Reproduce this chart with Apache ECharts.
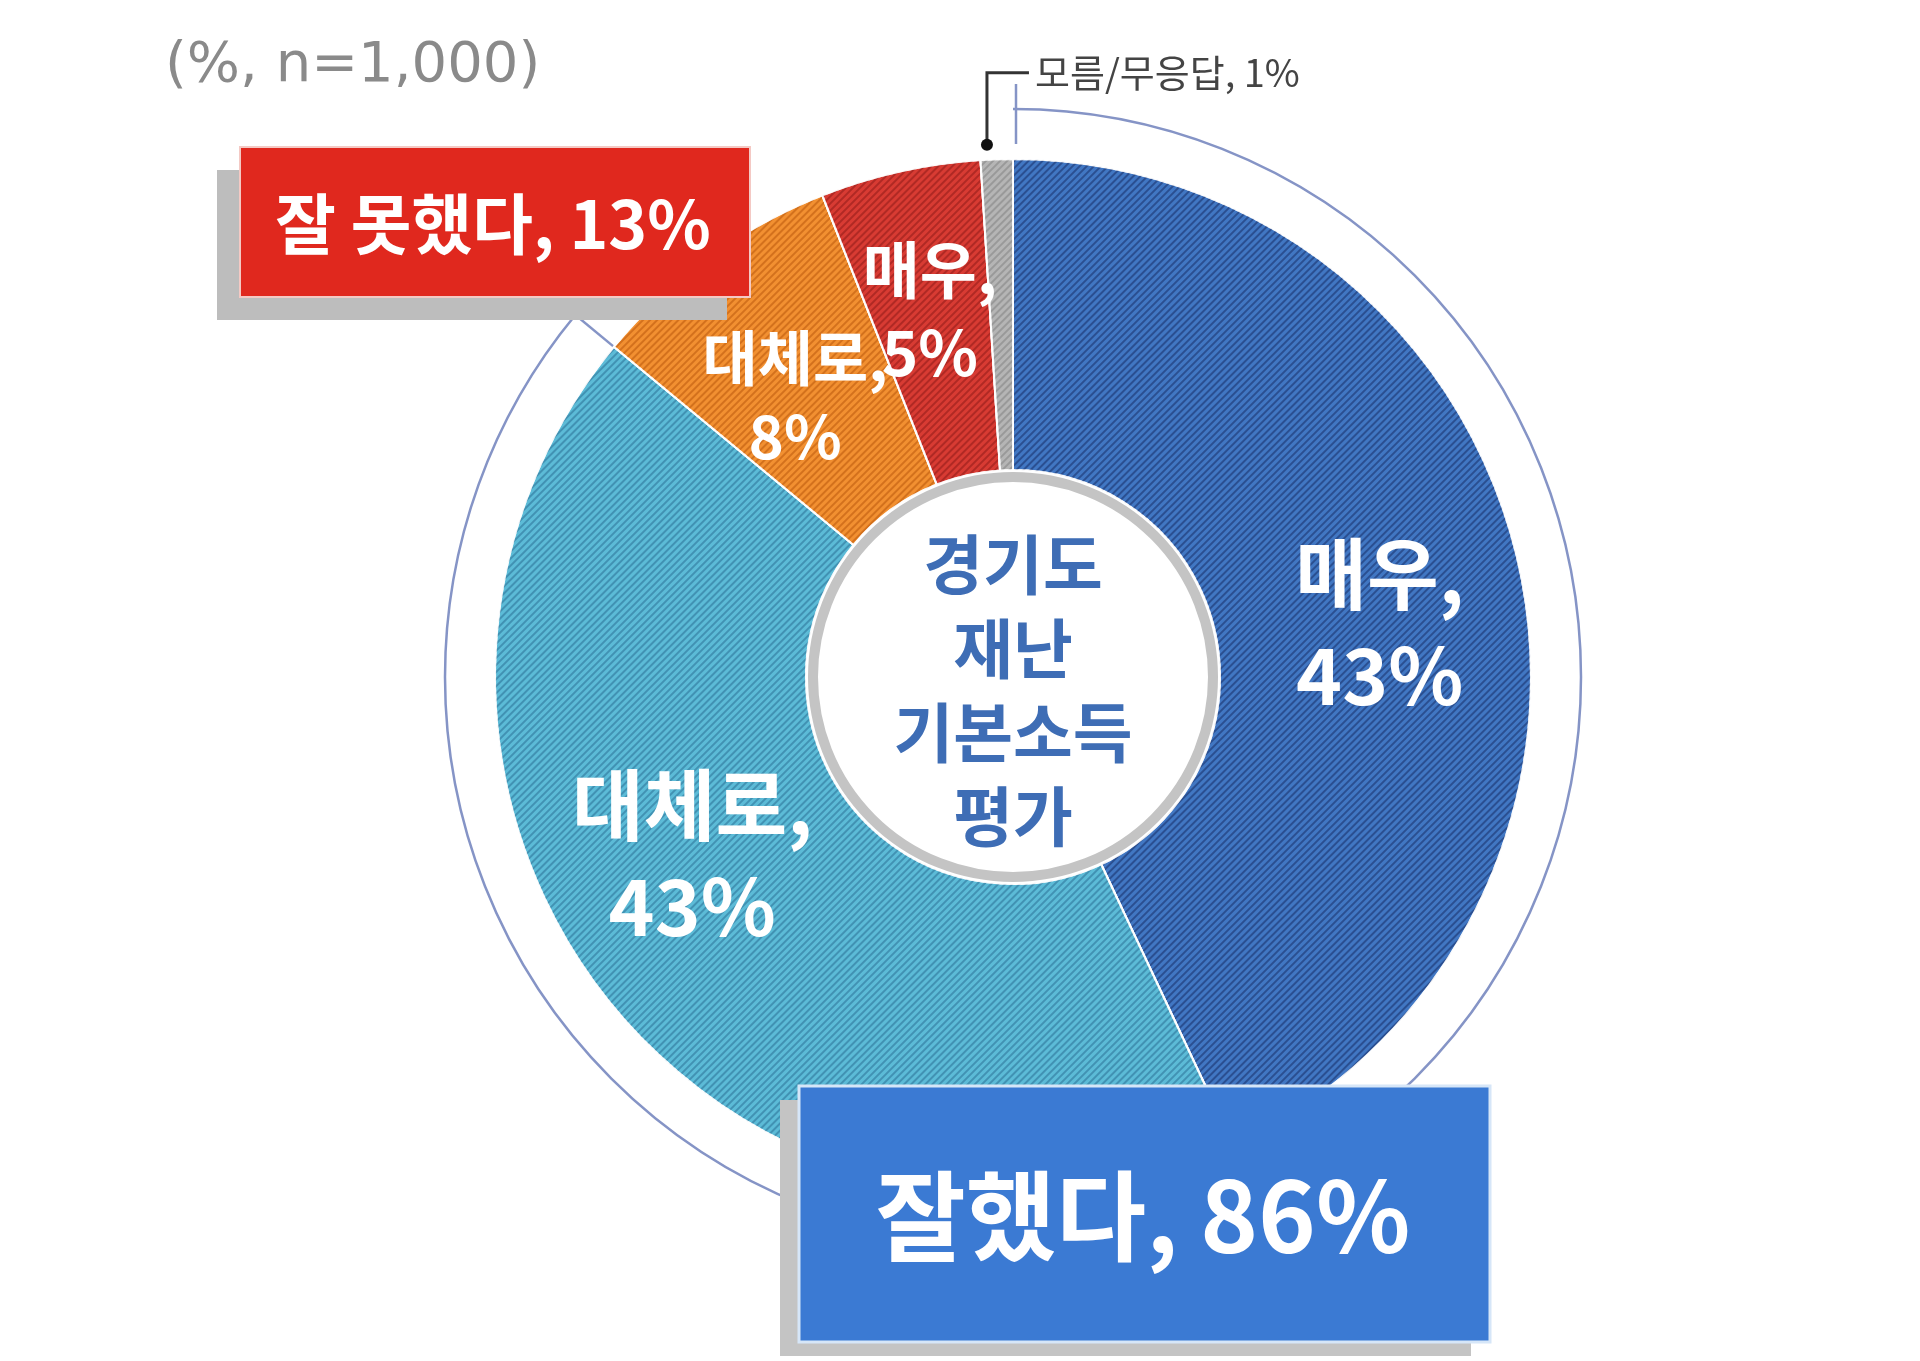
<!DOCTYPE html>
<html>
<head>
<meta charset="utf-8">
<title>경기도 재난기본소득 평가</title>
<script src="https://cdn.jsdelivr.net/npm/echarts@6/dist/echarts.min.js"></script>
<style>
    html, body { margin: 0; padding: 0; background: #fff; }
    #container { width: 1920px; height: 1361px; }
</style>
</head>
<body>
<div id="container"></div>
<script>
// data
let categories = ['매우 잘했다', '대체로 잘했다', '대체로 못했다', '매우 못했다', '모름/무응답'];
let shortNames = ['매우', '대체로', '대체로', '매우', '모름/무응답'];
let values = [43, 43, 8, 5, 1];
let groupNames = ['잘했다', '잘 못했다'];
let groupValues = [86, 13];
let sampleNote = '(%, n=1,000)';
let centerLines = ['경기도', '재난', '기본소득', '평가'];

// look
let colors = ['#4177c3', '#5cbbd7', '#f29031', '#d83b33', '#b5b5b5'];
let stripes = ['rgba(20,40,95,0.50)', 'rgba(20,80,120,0.38)', 'rgba(170,70,0,0.42)', 'rgba(110,10,10,0.38)', 'rgba(90,90,90,0.30)'];
let labelSizes = [78, 78, 60, 62, 0];
let labelOffsets = [[10, 28], [-32, -45], [-3, 16], [-4, -12], [0, 0]];
// the narrow red slice can't hold its label, so it is drawn outside the series
let labelInSeries = [true, true, true, false, false];

const CX = 1013, CY = 677, R0 = 207, R = 518;
const FONT = '"Noto Sans CJK KR", "Noto Sans", sans-serif';

let chart = echarts.init(document.getElementById('container'));

let total = values.reduce((a, b) => a + b, 0);

// degrees clockwise from 12 o'clock -> pixel
function polar(r, deg) {
    let a = deg * Math.PI / 180;
    return [CX + r * Math.sin(a), CY - r * Math.cos(a)];
}
function midDeg(i) {
    let before = 0;
    for (let k = 0; k < i; k++) before += values[k];
    return (before + values[i] / 2) / total * 360;
}

let pieData = values.map((v, i) => ({
    name: categories[i],
    value: v,
    itemStyle: {
        color: colors[i],
        borderColor: 'rgba(255,255,255,0.85)',
        borderWidth: 2,
        decal: {
            symbol: 'rect',
            symbolSize: 1,
            color: stripes[i],
            dashArrayX: [1, 0],
            dashArrayY: [2, 3],
            rotation: -Math.PI / 4
        }
    },
    label: {
        show: labelInSeries[i],
        fontSize: labelSizes[i],
        lineHeight: Math.round(labelSizes[i] * 1.3),
        offset: labelOffsets[i]
    }
}));

// the bracket arc for "잘했다" (from 12 o'clock clockwise)
let goodDeg = groupValues[0] / total * 360;
let arcStart = -Math.PI / 2;
let arcEnd = arcStart + goodDeg * Math.PI / 180;
let t0a = polar(533, 0), t0b = polar(593, 0);
let t1a = polar(512, goodDeg), t1b = polar(600, goodDeg);

// leader for the small gray slice
let dot = polar(533, midDeg(4) - 1);
let elbow = [dot[0], dot[1] - 72];
let lineEnd = [dot[0] + 42, dot[1] - 72];

// label of the red slice
let redPos = polar((R0 + R) / 2, midDeg(3));

let graphics = [
    {
        type: 'arc', z: 1, silent: true,
        shape: { cx: CX, cy: CY, r: 568, startAngle: arcStart, endAngle: arcEnd, clockwise: true },
        style: { stroke: '#8594c6', lineWidth: 2.5, fill: null }
    },
    {
        type: 'line', z: 1, silent: true,
        shape: { x1: t0a[0] + 3, y1: t0a[1], x2: t0b[0] + 3, y2: t0b[1] },
        style: { stroke: '#8594c6', lineWidth: 2.5 }
    },
    {
        type: 'line', z: 1, silent: true,
        shape: { x1: t1a[0], y1: t1a[1], x2: t1b[0], y2: t1b[1] },
        style: { stroke: '#8594c6', lineWidth: 2.5 }
    },
    // center disc
    {
        type: 'circle', z: 3, silent: true,
        shape: { cx: CX, cy: CY, r: 200 },
        style: { fill: '#fff', stroke: '#c4c4c4', lineWidth: 10 }
    },
    {
        type: 'text', z: 4, silent: true,
        x: CX, y: CY + 13,
        style: {
            text: centerLines.join('\n'),
            font: 'bold 65px ' + FONT,
            lineHeight: 84,
            fill: '#3e6db5',
            align: 'center',
            verticalAlign: 'middle'
        }
    },
    {
        type: 'text', z: 5, silent: true,
        x: redPos[0] + labelOffsets[3][0], y: redPos[1] + labelOffsets[3][1],
        style: {
            text: shortNames[3] + ',\n' + values[3] + '%',
            font: 'bold ' + labelSizes[3] + 'px ' + FONT,
            lineHeight: Math.round(labelSizes[3] * 1.32),
            fill: '#fff',
            align: 'center',
            verticalAlign: 'middle'
        }
    },
    // sample note
    {
        type: 'text', z: 4, silent: true,
        x: 165, y: 66,
        style: {
            text: sampleNote,
            font: '56px "DejaVu Sans", sans-serif',
            fill: '#8a8a8a',
            align: 'left',
            verticalAlign: 'middle'
        }
    },
    // gray slice leader
    {
        type: 'polyline', z: 6, silent: true,
        shape: { points: [dot, elbow, lineEnd] },
        style: { stroke: '#333', lineWidth: 3, fill: null }
    },
    {
        type: 'circle', z: 6, silent: true,
        shape: { cx: dot[0], cy: dot[1], r: 6 },
        style: { fill: '#111' }
    },
    {
        type: 'text', z: 6, silent: true,
        x: lineEnd[0] + 6, y: lineEnd[1],
        style: {
            text: shortNames[4] + ', ' + values[4] + '%',
            font: '38px ' + FONT,
            fill: '#444',
            align: 'left',
            verticalAlign: 'middle'
        }
    },
    // "잘 못했다" box
    {
        type: 'rect', z: 10, silent: true,
        shape: { x: 217, y: 170, width: 510, height: 150 },
        style: { fill: '#bdbdbd' }
    },
    {
        type: 'rect', z: 11, silent: true,
        shape: { x: 240, y: 147, width: 510, height: 150 },
        style: { fill: '#e0281e', stroke: '#f4c9c4', lineWidth: 2 }
    },
    {
        type: 'text', z: 12, silent: true,
        x: 493, y: 224,
        style: {
            text: groupNames[1] + ', ' + groupValues[1] + '%',
            font: 'bold 66px ' + FONT,
            fill: '#fff',
            align: 'center',
            verticalAlign: 'middle'
        }
    },
    // "잘했다" box
    {
        type: 'rect', z: 10, silent: true,
        shape: { x: 780, y: 1100, width: 691, height: 256 },
        style: { fill: '#c4c4c4' }
    },
    {
        type: 'rect', z: 11, silent: true,
        shape: { x: 799, y: 1086, width: 691, height: 256 },
        style: { fill: '#3b7ad3', stroke: '#d6e6f8', lineWidth: 3 }
    },
    {
        type: 'text', z: 12, silent: true,
        x: 1143, y: 1216,
        style: {
            text: groupNames[0] + ', ' + groupValues[0] + '%',
            font: 'bold 98px ' + FONT,
            fill: '#fff',
            align: 'center',
            verticalAlign: 'middle'
        }
    }
];

let option = {
    animation: false,
    backgroundColor: '#fff',
    series: [{
        type: 'pie',
        silent: true,
        center: [CX, CY],
        radius: [R0, R],
        startAngle: 90,
        clockwise: true,
        avoidLabelOverlap: false,
        label: {
            position: 'inside',
            color: '#fff',
            fontFamily: FONT,
            fontWeight: 'bold',
            formatter: function (p) {
                return shortNames[p.dataIndex] + ',\n' + p.value + '%';
            }
        },
        labelLine: { show: false },
        data: pieData
    }],
    graphic: graphics
};

chart.setOption(option);
</script>
</body>
</html>
